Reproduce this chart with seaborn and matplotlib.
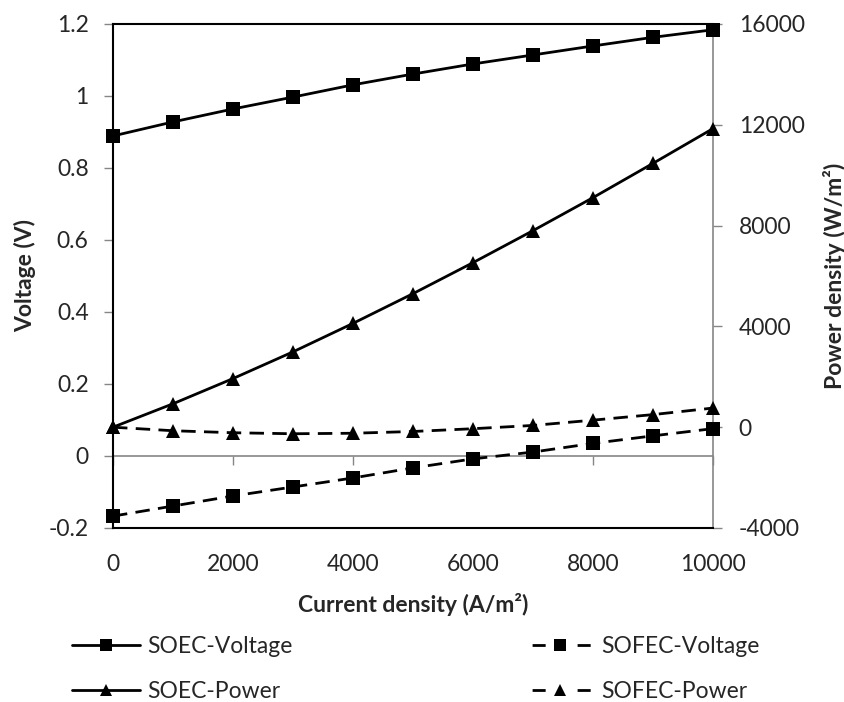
import matplotlib
matplotlib.use("Agg")
import matplotlib.pyplot as plt
import seaborn as sns
import pandas as pd
from matplotlib.lines import Line2D

# ---- data ----
current = [0, 1000, 2000, 3000, 4000, 5000, 6000, 7000, 8000, 9000, 10000]
soec_voltage = [0.889, 0.928, 0.964, 0.997, 1.031, 1.061, 1.089, 1.114, 1.139, 1.163, 1.184]
sofec_voltage = [-0.167, -0.139, -0.111, -0.086, -0.061, -0.033, -0.008, 0.011, 0.035, 0.056, 0.076]
soec_power = [0, 930, 1930, 2990, 4120, 5300, 6530, 7800, 9110, 10470, 11850]
sofec_power = [0, -140, -220, -260, -240, -170, -60, 70, 280, 500, 760]

x_ticks = [0, 2000, 4000, 6000, 8000, 10000]
x_tick_labels = ["0", "2000", "4000", "6000", "8000", "10000"]
v_ticks = [-0.2, 0, 0.2, 0.4, 0.6, 0.8, 1.0, 1.2]
v_tick_labels = ["-0.2", "0", "0.2", "0.4", "0.6", "0.8", "1", "1.2"]
p_ticks = [-4000, 0, 4000, 8000, 12000, 16000]
p_tick_labels = ["-4000", "0", "4000", "8000", "12000", "16000"]

labels = ["SOEC-Voltage", "SOFEC-Voltage", "SOEC-Power", "SOFEC-Power"]
x_label = "Current density (A/m²)"
v_label = "Voltage (V)"
p_label = "Power density (W/m²)"

# ---- style ----
sns.set_style("white")
plt.rcParams["font.family"] = ["Lato", "DejaVu Sans"]
FS = 16.5
GRAY = "#868686"

W, H = 845, 702
fig = plt.figure(figsize=(W / 100, H / 100), dpi=100)
ax = fig.add_axes([113 / W, 1 - 528 / H, 600 / W, 504 / H])
ax2 = ax.twinx()
ax.set_zorder(ax2.get_zorder() + 1)
ax.patch.set_visible(False)

df = pd.DataFrame({"current": current, "sv": soec_voltage, "fv": sofec_voltage,
                   "sp": soec_power, "fp": sofec_power})

LW = 2.0
DASH = (0, (5.2, 3.0))
common = dict(color="black", linewidth=LW, clip_on=False, zorder=4, legend=False)
sns.lineplot(data=df, x="current", y="sv", ax=ax, marker="s", markersize=10,
             markeredgewidth=0, linestyle="-", **common)
sns.lineplot(data=df, x="current", y="fv", ax=ax, marker="s", markersize=10,
             markeredgewidth=0, linestyle=DASH, **common)
sns.lineplot(data=df, x="current", y="sp", ax=ax2, marker="^", markersize=9.5,
             markeredgewidth=0, linestyle="-", **common)
sns.lineplot(data=df, x="current", y="fp", ax=ax2, marker="^", markersize=9.5,
             markeredgewidth=0, linestyle=DASH, **common)

ax.set_xlim(current[0], current[-1])
ax.set_ylim(v_ticks[0], v_ticks[-1])
ax2.set_ylim(p_ticks[0], p_ticks[-1])

# left axis
ax.set_yticks(v_ticks)
ax.set_yticklabels(v_tick_labels, fontsize=FS)
ax.tick_params(axis="y", direction="out", length=6.5, width=1, color=GRAY, pad=11,
               left=True, labelleft=True)
ax.set_ylabel(v_label, fontsize=FS, fontweight="bold", labelpad=9)

# x axis labels at bottom, tick marks on zero line
ax.set_xticks(x_ticks)
ax.set_xticklabels(x_tick_labels, fontsize=FS)
ax.tick_params(axis="x", length=0, pad=19)
ax.set_xlabel(x_label, fontsize=FS, fontweight="bold", labelpad=13)

sec = ax.secondary_xaxis(0, transform=ax.transData)
sec.set_xticks(x_ticks)
sec.tick_params(axis="x", direction="out", length=6.5, width=1, color=GRAY,
                labelbottom=False)
sec.spines["bottom"].set_color(GRAY)
sec.spines["bottom"].set_linewidth(1.2)

for s in ["left", "top", "bottom"]:
    ax.spines[s].set_color("black")
    ax.spines[s].set_linewidth(1.5)
ax.spines["right"].set_visible(False)

# right axis
ax2.set_yticks(p_ticks)
ax2.set_yticklabels(p_tick_labels, fontsize=FS)
ax2.tick_params(axis="y", direction="out", length=6.5, width=1, color=GRAY, pad=12,
                right=True, labelright=True)
ax2.set_ylabel(p_label, fontsize=FS, fontweight="bold", labelpad=13)
for s in ["left", "top", "bottom"]:
    ax2.spines[s].set_visible(False)
ax2.spines["right"].set_color(GRAY)
ax2.spines["right"].set_linewidth(1.2)

ax.grid(False)
ax2.grid(False)

# legend (two columns placed separately)
LEG_DASH = (22.3, (4.7, 11.5, 4.7, 3.6))


def handle(ls, mk, ms):
    return Line2D([], [], color="black", linewidth=LW, linestyle=ls, marker=mk,
                  markersize=ms, markeredgewidth=0)


h_soec = [handle("-", "s", 9), handle("-", "^", 9)]
h_sofec = [handle(LEG_DASH, "s", 9), handle(LEG_DASH, "^", 9)]
legkw = dict(frameon=False, fontsize=FS, handlelength=2.95, handletextpad=0.35,
             labelspacing=1.05, borderpad=0, borderaxespad=0, loc="upper left")
fig.legend(h_soec, [labels[0], labels[2]], bbox_to_anchor=(72 / W, 1 - 636 / H), **legkw)
fig.legend(h_sofec, [labels[1], labels[3]], bbox_to_anchor=(526 / W, 1 - 636 / H), **legkw)

fig.savefig("out.png", dpi=100)
